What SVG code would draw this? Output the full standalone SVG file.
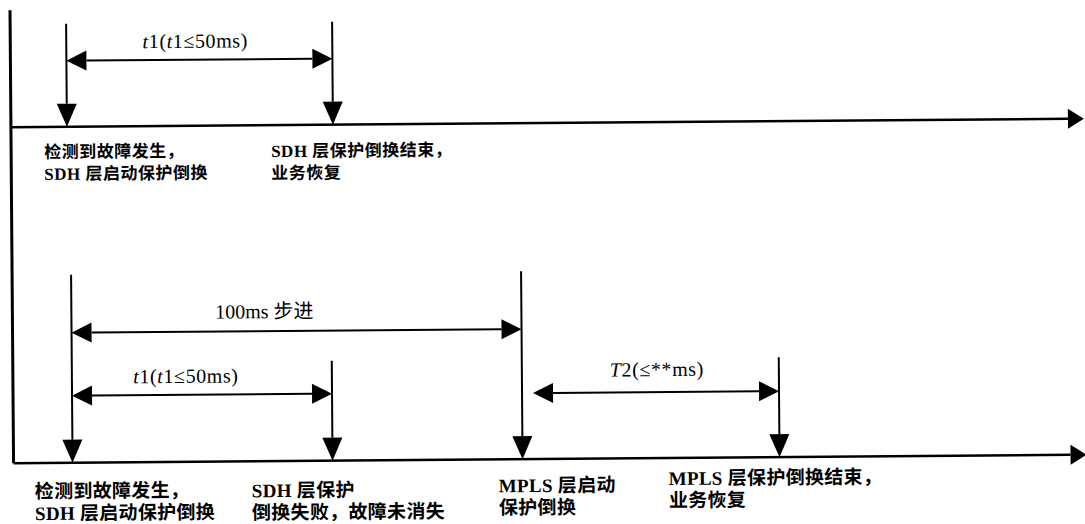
<svg xmlns="http://www.w3.org/2000/svg" width="1085" height="524" viewBox="0 0 1085 524">
<style>
.bg{fill:#ffffff}
.axis{stroke:#000;stroke-width:2.5;fill:none}
.frame{stroke:#000;stroke-width:3;fill:none}
.ev{stroke:#000;stroke-width:2;fill:none}
.dim{stroke:#000;stroke-width:2;fill:none}
.lbl{font-family:"Liberation Serif","Noto Sans CJK SC",serif;font-weight:bold;fill:#000}
.top{font-size:17px;letter-spacing:0.5px}
.bot{font-size:19px;letter-spacing:0.3px}
.dl{font-family:"Liberation Serif","Noto Sans CJK SC",serif;font-size:20px;fill:#000;text-anchor:middle;letter-spacing:0.6px}
.it{font-style:italic}
</style>
<defs>
<marker id="down" markerUnits="userSpaceOnUse" markerWidth="24" markerHeight="20" refX="0" refY="10" orient="auto" overflow="visible">
<path d="M0,0 L23,10 L0,20 Z" fill="#000"/>
</marker>
<marker id="dimhead" markerUnits="userSpaceOnUse" markerWidth="20" markerHeight="20" refX="0" refY="10" orient="auto-start-reverse" overflow="visible">
<path d="M0,0 L20,10 L0,20 Z" fill="#000"/>
</marker>
<marker id="axhead" markerUnits="userSpaceOnUse" markerWidth="16" markerHeight="20" refX="0" refY="10" orient="auto" overflow="visible">
<path d="M0,0 L16,10 L0,20 Z" fill="#000"/>
</marker>
</defs>
<rect class="bg" x="0" y="0" width="1085" height="524"/>
<g transform="rotate(-0.45 542 262)">
<g id="axes">
<line class="frame" x1="12" y1="6" x2="12" y2="459"/>
<line class="axis" x1="12" y1="123" x2="1069" y2="123" marker-end="url(#axhead)"/>
<line class="axis" x1="12" y1="459" x2="1069" y2="459" marker-end="url(#axhead)"/>
</g>
<g id="connectors">
<line class="ev" x1="68" y1="20" x2="68" y2="100" marker-end="url(#down)"/>
<line class="ev" x1="334" y1="20" x2="334" y2="100" marker-end="url(#down)"/>
<line class="dim" x1="88" y1="57" x2="314" y2="57" marker-start="url(#dimhead)" marker-end="url(#dimhead)"/>
<line class="ev" x1="71" y1="271" x2="71" y2="436" marker-end="url(#down)"/>
<line class="ev" x1="331" y1="359" x2="331" y2="436" marker-end="url(#down)"/>
<line class="ev" x1="521" y1="271" x2="521" y2="436" marker-end="url(#down)"/>
<line class="ev" x1="778" y1="359" x2="778" y2="436" marker-end="url(#down)"/>
<line class="dim" x1="91" y1="329" x2="501" y2="329" marker-start="url(#dimhead)" marker-end="url(#dimhead)"/>
<line class="dim" x1="91" y1="392" x2="311" y2="392" marker-start="url(#dimhead)" marker-end="url(#dimhead)"/>
<line class="dim" x1="552" y1="393" x2="758" y2="393" marker-start="url(#dimhead)" marker-end="url(#dimhead)"/>
</g>
<g id="dim-top-t1"><text class="dl" x="197" y="45"><tspan class="it">t</tspan>1(<tspan class="it">t</tspan>1≤50ms)</text></g>
<g id="dim-100ms"><text class="dl" x="264" y="316" style="letter-spacing:0px">100ms 步进</text></g>
<g id="dim-bottom-t1"><text class="dl" x="185" y="380"><tspan class="it">t</tspan>1(<tspan class="it">t</tspan>1≤50ms)</text></g>
<g id="dim-t2"><text class="dl" x="656" y="377"><tspan class="it">T</tspan>2(≤**ms)</text></g>
<g id="top-event-1"><text class="lbl top" x="45" y="154">检测到故障发生，</text><text class="lbl top" x="45" y="176">SDH 层启动保护倒换</text></g>
<g id="top-event-2"><text class="lbl top" x="272" y="155">SDH 层保护倒换结束，</text><text class="lbl top" x="272" y="177">业务恢复</text></g>
<g id="bottom-event-1"><text class="lbl bot" x="33" y="494">检测到故障发生，</text><text class="lbl bot" x="33" y="516">SDH 层启动保护倒换</text></g>
<g id="bottom-event-2"><text class="lbl bot" x="250" y="495">SDH 层保护</text><text class="lbl bot" x="250" y="517">倒换失败，故障未消失</text></g>
<g id="bottom-event-3"><text class="lbl bot" x="497" y="492">MPLS 层启动</text><text class="lbl bot" x="497" y="514">保护倒换</text></g>
<g id="bottom-event-4"><text class="lbl bot" x="667" y="486">MPLS 层保护倒换结束，</text><text class="lbl bot" x="667" y="508">业务恢复</text></g>
</g>
</svg>
